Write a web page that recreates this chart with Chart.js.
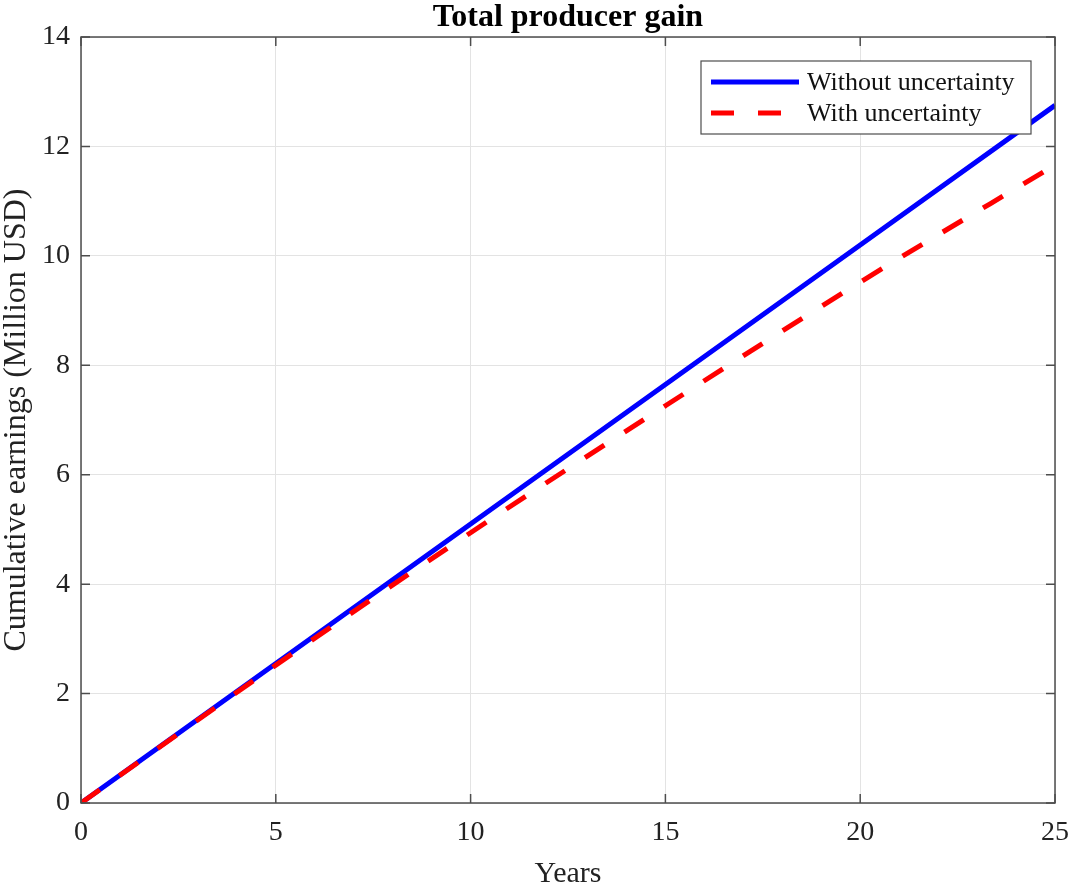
<!DOCTYPE html>
<html>
<head>
<meta charset="utf-8">
<script src="https://cdn.jsdelivr.net/npm/chart.js@4.4.1/dist/chart.umd.min.js"></script>
<style>
  html, body { margin: 0; padding: 0; background: #fff; }
  #wrap { width: 1071px; height: 886px; position: relative; }
</style>
</head>
<body>
<div id="wrap"><canvas id="gainChart"></canvas></div>
<script>
// values
const years = [0, 5, 10, 15, 20, 25];
const withoutUncertainty = [0, 2.55, 5.1, 7.65, 10.2, 12.75];
const withUncertainty = [0, 2.52, 4.94, 7.26, 9.52, 11.66];
const xTicks = [0, 5, 10, 15, 20, 25];
const yTicks = [0, 2, 4, 6, 8, 10, 12, 14];

const serif = "'Liberation Serif', 'Times New Roman', serif";
const axisColor = '#4d4d4d';

function toPoints(xs, ys) {
    return xs.map((x, i) => ({ x: x, y: ys[i] }));
}

// MATLAB style box: top/right border, inward ticks, legend and labels
const matlabBox = {
    id: 'matlabBox',
    afterDraw(chart) {
        const ctx = chart.ctx;
        const a = chart.chartArea;
        const xs = chart.scales.x, ys = chart.scales.y;
        const tl = 9;
        ctx.save();
        ctx.strokeStyle = axisColor;
        ctx.lineWidth = 1.5;
        ctx.strokeRect(a.left, a.top, a.right - a.left, a.bottom - a.top);
        ctx.beginPath();
        xTicks.forEach(v => {
            const px = xs.getPixelForValue(v);
            ctx.moveTo(px, a.bottom); ctx.lineTo(px, a.bottom - tl);
            ctx.moveTo(px, a.top); ctx.lineTo(px, a.top + tl);
        });
        yTicks.forEach(v => {
            const py = ys.getPixelForValue(v);
            ctx.moveTo(a.left, py); ctx.lineTo(a.left + tl, py);
            ctx.moveTo(a.right, py); ctx.lineTo(a.right - tl, py);
        });
        ctx.stroke();

        // title and axis titles
        ctx.fillStyle = '#000';
        ctx.textAlign = 'center';
        ctx.textBaseline = 'alphabetic';
        ctx.font = 'bold 32px ' + serif;
        ctx.fillText('Total producer gain', (a.left + a.right) / 2, 26);
        ctx.fillStyle = '#222';
        ctx.font = '30px ' + serif;
        ctx.fillText('Years', (a.left + a.right) / 2, 882);
        ctx.save();
        ctx.translate(25, (a.top + a.bottom) / 2);
        ctx.rotate(-Math.PI / 2);
        ctx.font = '32px ' + serif;
        ctx.fillText('Cumulative earnings (Million USD)', 0, 0);
        ctx.restore();

        // legend
        const lx = 701, ly = 61, lw = 330, lh = 73;
        ctx.fillStyle = '#fff';
        ctx.fillRect(lx, ly, lw, lh);
        ctx.strokeStyle = axisColor;
        ctx.lineWidth = 1.2;
        ctx.strokeRect(lx, ly, lw, lh);
        ctx.font = '26px ' + serif;
        ctx.textAlign = 'left';
        ctx.textBaseline = 'middle';
        const rows = [82, 113];
        chart.data.datasets.forEach((ds, i) => {
            ctx.beginPath();
            ctx.strokeStyle = ds.borderColor;
            ctx.lineWidth = ds.borderWidth;
            ctx.setLineDash(ds.borderDash || []);
            ctx.moveTo(711, rows[i]);
            ctx.lineTo(799, rows[i]);
            ctx.stroke();
            ctx.setLineDash([]);
            ctx.fillStyle = '#111';
            ctx.fillText(ds.label, 807, rows[i] + 1);
        });
        ctx.restore();
    }
};

const gainCanvas = document.getElementById('gainChart');
let gainChart = new Chart(gainCanvas, {
    type: 'line',
    data: {
        datasets: [
            {
                label: 'Without uncertainty',
                data: toPoints(years, withoutUncertainty),
                borderColor: '#0000ff',
                borderWidth: 5,
                pointRadius: 0,
                order: 1
            },
            {
                label: 'With uncertainty',
                data: toPoints(years, withUncertainty),
                borderColor: '#ff0000',
                borderWidth: 5,
                borderDash: [23, 24],
                borderCapStyle: 'butt',
                cubicInterpolationMode: 'monotone',
                pointRadius: 0,
                order: 0
            }
        ]
    },
    options: {
        responsive: true,
        maintainAspectRatio: false,
        animation: false,
        layout: { padding: { left: 0, top: 37, right: 16, bottom: 0 } },
        plugins: {
            legend: { display: false },
            tooltip: { enabled: false }
        },
        scales: {
            x: {
                type: 'linear',
                min: 0,
                max: 25,
                afterFit(scale) {
                    scale.height = 83;
                    scale.paddingLeft = 0;
                    scale.paddingRight = 0;
                },
                afterBuildTicks(scale) { scale.ticks = xTicks.map(v => ({ value: v })); },
                grid: { color: '#e3e3e3', lineWidth: 1, drawTicks: false },
                border: { display: false },
                ticks: {
                    padding: 13,
                    color: '#222',
                    font: { family: serif, size: 28 },
                    maxRotation: 0
                }
            },
            y: {
                min: 0,
                max: 14,
                afterFit(scale) { scale.width = 81; },
                afterBuildTicks(scale) { scale.ticks = yTicks.map(v => ({ value: v })); },
                grid: { color: '#e3e3e3', lineWidth: 1, drawTicks: false },
                border: { display: false },
                ticks: {
                    padding: 11,
                    color: '#222',
                    font: { family: serif, size: 28 }
                }
            }
        }
    },
    plugins: [matlabBox]
});
</script>
</body>
</html>
